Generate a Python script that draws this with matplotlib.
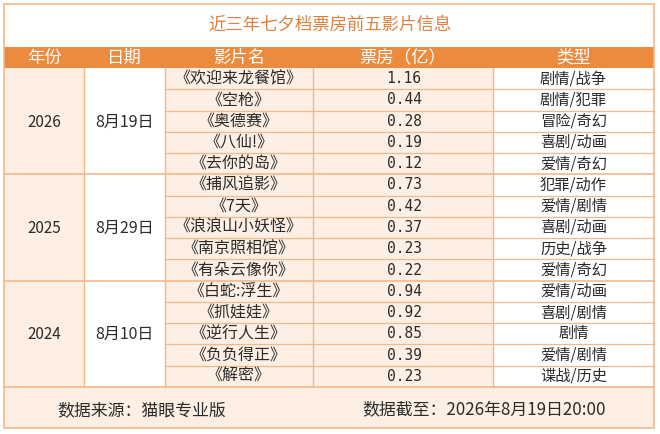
import matplotlib
matplotlib.use('Agg')
import matplotlib.pyplot as plt
from matplotlib.patches import Rectangle

plt.rcParams['font.family'] = ['Noto Sans CJK SC', 'DejaVu Sans']

title = '近三年七夕档票房前五影片信息'
headers = ['年份', '日期', '影片名', '票房（亿）', '类型']
years = ['2026', '2025', '2024']
dates = ['8月19日', '8月29日', '8月10日']
films = ['《欢迎来龙餐馆》', '《空枪》', '《奥德赛》', '《八仙!》', '《去你的岛》',
         '《捕风追影》', '《7天》', '《浪浪山小妖怪》', '《南京照相馆》', '《有朵云像你》',
         '《白蛇:浮生》', '《抓娃娃》', '《逆行人生》', '《负负得正》', '《解密》']
box = [1.16, 0.44, 0.28, 0.19, 0.12,
       0.73, 0.42, 0.37, 0.23, 0.22,
       0.94, 0.92, 0.85, 0.39, 0.23]
genres = ['剧情/战争', '剧情/犯罪', '冒险/奇幻', '喜剧/动画', '爱情/奇幻',
          '犯罪/动作', '爱情/剧情', '喜剧/动画', '历史/战争', '爱情/奇幻',
          '爱情/动画', '喜剧/剧情', '剧情', '爱情/剧情', '谍战/历史']
source = '数据来源：猫眼专业版'
cutoff = '数据截至：2026年8月19日20:00'

orange = '#ec8a3e'
line = '#f2b98c'
peach = '#fdefe3'
txt = '#2b2b2b'

# layout in pixels
col_x = [4, 84, 165, 313, 493, 654]
top, head_top, head_bot = 4, 47, 68
row_h = (387 - head_bot) / len(films)
foot_bot = 428
col_bg = [peach, 'white', peach, peach, 'white']

fig = plt.figure(figsize=(6.6, 4.34), dpi=100)
ax = fig.add_axes([0, 0, 1, 1])
ax.set_xlim(0, 660)
ax.set_ylim(434, 0)
ax.axis('off')

# title area
ax.add_patch(Rectangle((col_x[0], top), col_x[-1] - col_x[0], head_top - top,
                       facecolor='white', edgecolor='none'))
ax.text(330, 25, title, ha='center', va='center', fontsize=12.5, color='#e0803f')

# header
ax.add_patch(Rectangle((col_x[0], head_top), col_x[-1] - col_x[0], head_bot - head_top,
                       facecolor=orange, edgecolor='none'))
for i, h in enumerate(headers):
    ax.text((col_x[i] + col_x[i + 1]) / 2, (head_top + head_bot) / 2 + 0.5, h,
            ha='center', va='center', fontsize=12.5, color='white')

body_bot = head_bot + row_h * len(films)
for i, bg in enumerate(col_bg):
    ax.add_patch(Rectangle((col_x[i], head_bot), col_x[i + 1] - col_x[i], body_bot - head_bot,
                           facecolor=bg, edgecolor='none'))

# rows
for r in range(len(films)):
    yc = head_bot + row_h * (r + 0.5)
    ax.text((col_x[2] + col_x[3]) / 2, yc, films[r], ha='center', va='center', fontsize=11.5, color=txt)
    ax.text((col_x[3] + col_x[4]) / 2 + 1, yc, '%.2f' % box[r], ha='center', va='center',
            fontsize=10.5, color=txt, family='DejaVu Sans Mono')
    ax.text((col_x[4] + col_x[5]) / 2, yc, genres[r], ha='center', va='center', fontsize=11, color=txt)
    if r > 0:
        y = head_bot + row_h * r
        if r % 5 == 0:
            ax.plot([col_x[0], col_x[-1]], [y, y], color=line, lw=1.2)
        else:
            ax.plot([col_x[2], col_x[-1]], [y, y], color=line, lw=0.9)

n = len(films) // len(years)
for g in range(len(years)):
    yc = head_bot + row_h * (g * n + n / 2) + 1
    ax.text((col_x[0] + col_x[1]) / 2, yc, years[g], ha='center', va='center', fontsize=11, color=txt)
    ax.text((col_x[1] + col_x[2]) / 2, yc, dates[g], ha='center', va='center', fontsize=11.5, color=txt)

for x in col_x[1:-1]:
    ax.plot([x, x], [head_bot, body_bot], color=line, lw=1.0)

# footer
ax.add_patch(Rectangle((col_x[0], body_bot), col_x[-1] - col_x[0], foot_bot - body_bot,
                       facecolor=peach, edgecolor='none'))
ax.plot([col_x[0], col_x[-1]], [body_bot, body_bot], color=line, lw=1.2)
ax.text(57, 410, source, ha='left', va='center', fontsize=12.2, color=txt)
ax.text(362, 410, cutoff, ha='left', va='center', fontsize=12.2, color=txt)

# outer border
ax.add_patch(Rectangle((col_x[0], top), col_x[-1] - col_x[0], foot_bot - top,
                       facecolor='none', edgecolor=line, lw=1.2))

fig.savefig('out.png', dpi=100)
